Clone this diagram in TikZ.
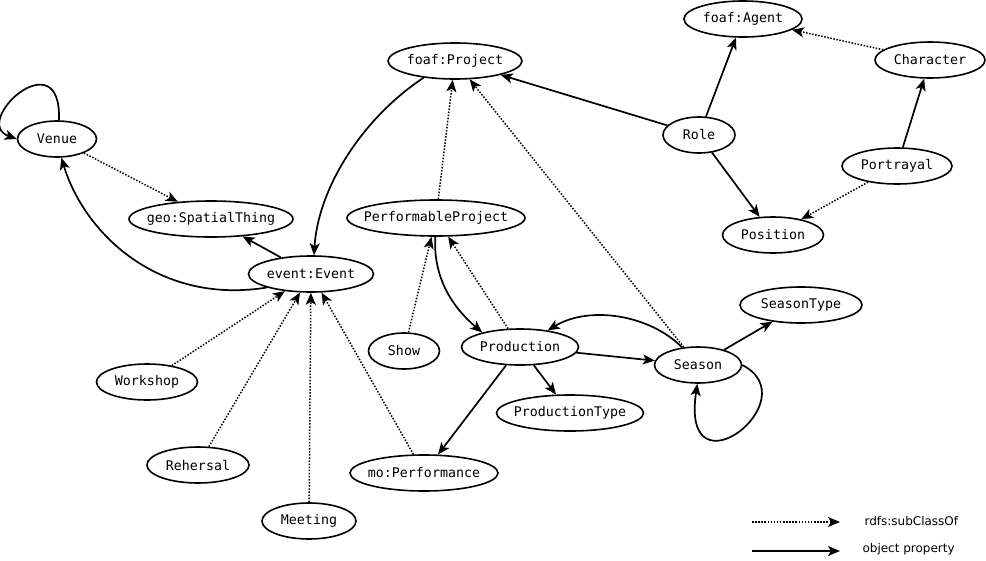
\documentclass[tikz,border=0pt]{standalone}
\usepackage{fontspec}
\setmonofont{DejaVu Sans Mono}
\setsansfont{DejaVu Sans}
\usetikzlibrary{arrows.meta,shapes.geometric}

\tikzset{
	subclass/.style={-{Stealth[length=12pt,width=10pt,inset=3pt]},line width=1.5pt,dash pattern=on 1.5pt off 1.6pt},
	prop/.style={-{Stealth[length=12pt,width=10pt,inset=3pt]},line width=1.7pt},
	legendtext/.style={font=\sffamily\fontsize{12pt}{14pt}\selectfont,anchor=west}
}

\begin{document}
\begin{tikzpicture}[x=1pt,y=-1pt,font=\ttfamily\fontsize{13.3pt}{16pt}\selectfont]

	\useasboundingbox (0,0) rectangle (986,560);

	\begin{scope}[every node/.style={draw,ellipse,line width=1.6pt,inner xsep=-30pt,inner ysep=0pt,minimum height=36pt}]
		\node[minimum width=79pt]  (venue)       at (57,139)  {Venue};
		\node[minimum width=164pt] (spatial)     at (211,219) {geo:SpatialThing};
		\node[minimum width=125pt] (event)       at (311,274) {event:Event};
		\node[minimum width=134pt] (project)     at (455,61)  {foaf:Project};
		\node[minimum width=118pt] (agent)       at (743,19)  {foaf:Agent};
		\node[minimum width=110pt] (character)   at (930,60)  {Character};
		\node[minimum width=72pt]  (role)        at (699,135) {Role};
		\node[minimum width=110pt] (portrayal)   at (897,166) {Portrayal};
		\node[minimum width=101pt] (position)    at (773,235) {Position};
		\node[minimum width=178pt] (perfproject) at (436,218) {PerformableProject};
		\node[minimum width=71pt]  (show)        at (404,351) {Show};
		\node[minimum width=117pt] (production)  at (520,347) {Production};
		\node[minimum width=87pt]  (season)      at (698,365) {Season};
		\node[minimum width=147pt] (prodtype)    at (570,413) {ProductionType};
		\node[minimum width=122pt] (seasontype)  at (801,305) {SeasonType};
		\node[minimum width=101pt] (workshop)    at (147,382) {Workshop};
		\node[minimum width=102pt] (rehersal)    at (198,465) {Rehersal};
		\node[minimum width=94pt]  (meeting)     at (309,521) {Meeting};
		\node[minimum width=148pt] (performance) at (424,473) {mo:Performance};
	\end{scope}

	% subclass links
	\draw[subclass] (venue)       -- (spatial);
	\draw[subclass] (perfproject) -- (project);
	\draw[subclass] (season)      -- (project);
	\draw[subclass] (character)   -- (agent);
	\draw[subclass] (portrayal)   -- (position);
	\draw[subclass] (production)  -- (perfproject);
	\draw[subclass] (show)        -- (perfproject);
	\draw[subclass] (workshop)    -- (event);
	\draw[subclass] (rehersal)    -- (event);
	\draw[subclass] (meeting)     -- (event);
	\draw[subclass] (performance) -- (event);

	% object properties
	\draw[prop] (venue.84) .. controls (62,38) and (-30,122) .. (venue.west);
	\draw[prop] (event.197) .. controls (160,305) and (85,235) .. (venue.283);
	\draw[prop] (event)      -- (spatial);
	\draw[prop] (project.208) .. controls (360,120) and (318,190) .. (event.81);
	\draw[prop] (role)       -- (project);
	\draw[prop] (role)       -- (agent);
	\draw[prop] (role)       -- (position);
	\draw[prop] (portrayal)  -- (character);
	\draw[prop] (perfproject.268) .. controls (433,275) and (450,305) .. (production.159);
	\draw[prop] (production) -- (season);
	\draw[prop] (season.132) .. controls (650,315) and (590,305) .. (production.31);
	\draw[prop] (season.east) .. controls (810,400) and (680,500) .. (season.268);
	\draw[prop] (season)     -- (seasontype);
	\draw[prop] (production) -- (prodtype);
	\draw[prop] (production) -- (performance);

	% legend
	\coordinate (subfrom)  at (752,522);
	\coordinate (subto)    at (840,522);
	\coordinate (propfrom) at (752,551);
	\coordinate (propto)   at (840,551);
	\draw[subclass] (subfrom)  -- (subto);
	\draw[prop]     (propfrom) -- (propto);
	\node[legendtext] (sublabel)  at (861,521) {rdfs:subClassOf};
	\node[legendtext] (proplabel) at (859,549) {object property};

\end{tikzpicture}
\end{document}
